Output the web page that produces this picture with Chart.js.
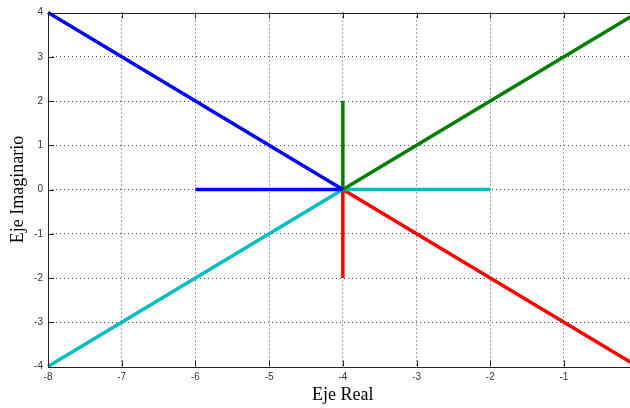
<!DOCTYPE html>
<html><head><meta charset="utf-8">
<script src="https://cdn.jsdelivr.net/npm/chart.js@4"></script>
<style>
html,body{margin:0;padding:0;overflow:hidden;background:#fff;width:630px;height:408px}
#wrap{width:650px;height:408px}
</style></head>
<body><div id="wrap"><canvas id="c" width="650" height="408"></canvas></div>
<script>
// Axis ranges / ticks
const xTicks = [-8, -7, -6, -5, -4, -3, -2, -1, 0];
const yTicks = [-4, -3, -2, -1, 0, 1, 2, 3, 4];
const xTitle = 'Eje Real';
const yTitle = 'Eje Imaginario';

// Series (x, y pairs)
const blueDiagX = [-8, -4],  blueDiagY = [4, 0];
const blueHorX  = [-6, -4],  blueHorY  = [0, 0];
const greenDiagX = [-4, 0],  greenDiagY = [0, 4];
const greenVertX = [-4, -4], greenVertY = [0, 2];
const cyanDiagX = [-8, -4],  cyanDiagY = [-4, 0];
const cyanHorX  = [-4, -2],  cyanHorY  = [0, 0];
const redDiagX  = [-4, 0],   redDiagY  = [0, -4];
const redVertX  = [-4, -4],  redVertY  = [0, -2];

const series = [
  {xs: blueDiagX, ys: blueDiagY, color: '#0000ff'},
  {xs: blueHorX, ys: blueHorY, color: '#0000ff'},
  {xs: greenDiagX, ys: greenDiagY, color: '#007f00'},
  {xs: greenVertX, ys: greenVertY, color: '#007f00'},
  {xs: cyanDiagX, ys: cyanDiagY, color: '#00bfbf'},
  {xs: cyanHorX, ys: cyanHorY, color: '#00bfbf'},
  {xs: redDiagX, ys: redDiagY, color: '#ff0000'},
  {xs: redVertX, ys: redVertY, color: '#ff0000'}
];

const datasets = series.map(s => ({
  data: s.xs.map((x, i) => ({x: x, y: s.ys[i]})),
  showLine: true,
  borderColor: s.color,
  backgroundColor: s.color,
  borderWidth: 3.5,
  pointRadius: 0,
  tension: 0,
  clip: false
}));

const boxPlugin = {
  id: 'box',
  afterDraw(chart) {
    const {ctx, chartArea: a, scales: {x, y}} = chart;
    ctx.save();
    ctx.strokeStyle = '#222';
    ctx.lineWidth = 1;
    ctx.setLineDash([]);
    ctx.beginPath();
    ctx.rect(Math.round(a.left) + 0.5, Math.round(a.top) + 0.5, Math.round(a.right - a.left), Math.round(a.bottom - a.top));
    ctx.stroke();
    ctx.beginPath();
    const L = 6;
    xTicks.forEach(v => {
      const px = Math.round(x.getPixelForValue(v)) + 0.5;
      ctx.moveTo(px, a.bottom); ctx.lineTo(px, a.bottom - L);
      ctx.moveTo(px, a.top); ctx.lineTo(px, a.top + L);
    });
    yTicks.forEach(v => {
      const py = Math.round(y.getPixelForValue(v)) + 0.5;
      ctx.moveTo(a.left, py); ctx.lineTo(a.left + L, py);
      ctx.moveTo(a.right, py); ctx.lineTo(a.right - L, py);
    });
    ctx.stroke();
    ctx.restore();
  }
};

const gridColor = (ticks) => (ctx) => {
  const v = ctx.tick ? ctx.tick.value : null;
  return (v === ticks[0] || v === ticks[ticks.length - 1]) ? 'rgba(0,0,0,0)' : '#444';
};

new Chart(document.getElementById('c'), {
  type: 'scatter',
  data: {datasets},
  plugins: [boxPlugin],
  options: {
    responsive: false,
    animation: false,
    layout: {padding: {top: 12.5, right: 12.3, bottom: 0, left: 0}},
    plugins: {legend: {display: false}, tooltip: {enabled: false}},
    scales: {
      x: {
        type: 'linear', min: xTicks[0], max: xTicks[xTicks.length - 1],
        afterBuildTicks: s => { s.ticks = xTicks.map(v => ({value: v})); },
        afterFit: s => { s.height = 41.5; },
        ticks: {font: {family: 'Liberation Sans', size: 10}, color: '#333', padding: 5, maxRotation: 0},
        grid: {color: gridColor(xTicks), drawTicks: false},
        border: {display: false, dash: [1, 3]},
        title: {display: true, text: xTitle, font: {family: 'Liberation Serif', size: 18}, color: '#000', padding: {top: 0, bottom: 2}}
      },
      y: {
        type: 'linear', min: yTicks[0], max: yTicks[yTicks.length - 1],
        afterBuildTicks: s => { s.ticks = yTicks.map(v => ({value: v})); },
        afterFit: s => { s.width = 48; },
        ticks: {font: {family: 'Liberation Sans', size: 10}, color: '#333', padding: 5},
        grid: {color: gridColor(yTicks), drawTicks: false},
        border: {display: false, dash: [1, 3]},
        title: {display: true, text: yTitle, font: {family: 'Liberation Serif', size: 18}, color: '#000', padding: {top: 7, bottom: 0}}
      }
    }
  }
});
</script>
</body></html>
